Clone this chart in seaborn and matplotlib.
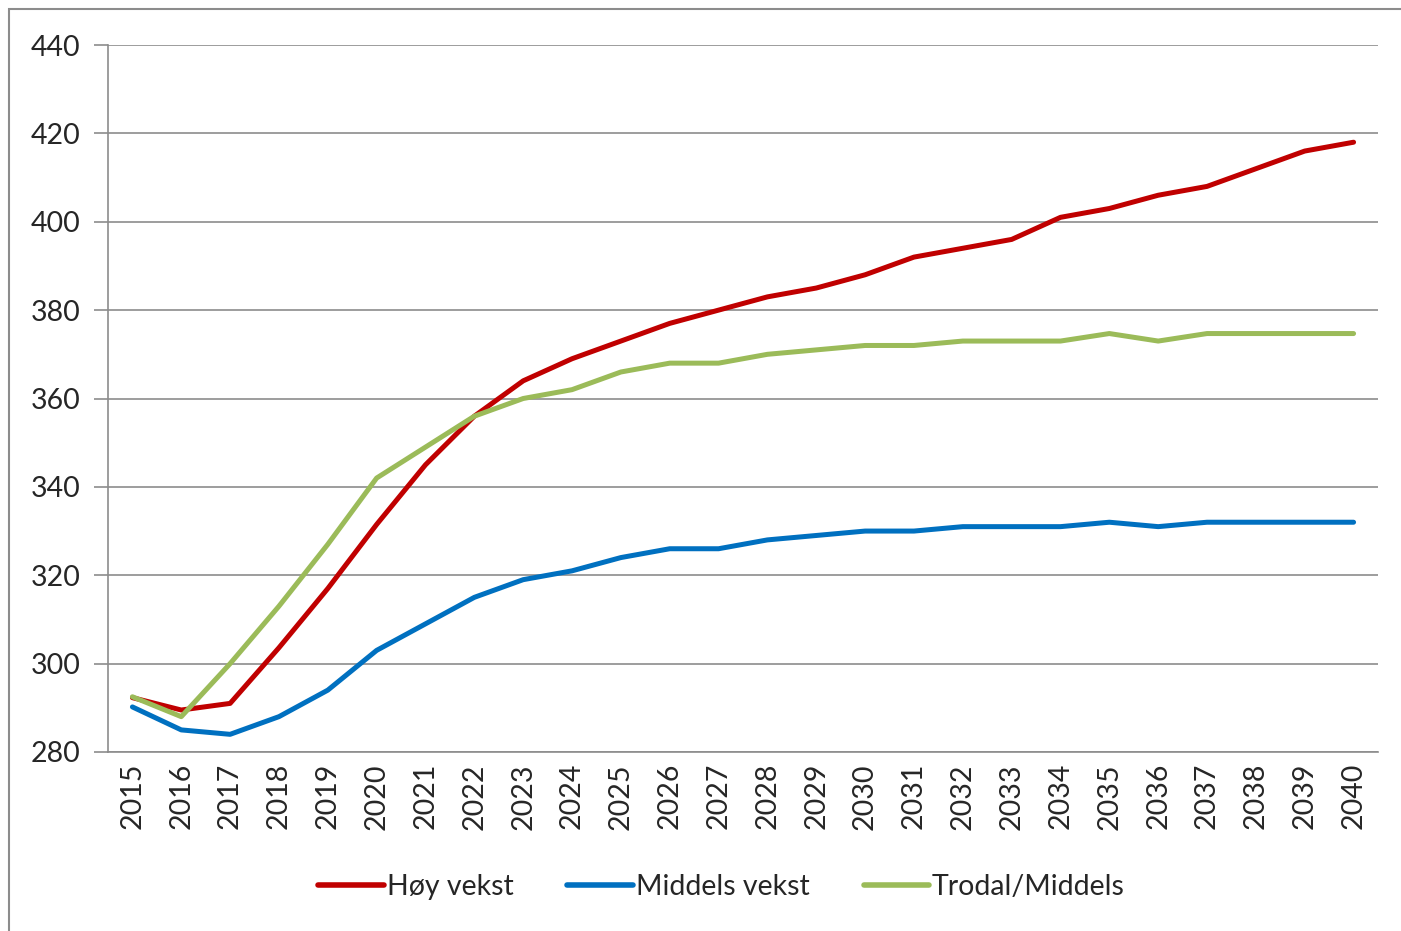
import pandas as pd
import matplotlib.pyplot as plt
import numpy as np
import seaborn as sns
from matplotlib.patches import Rectangle

years = list(range(2015, 2041))
hoy_vekst = [292.3, 289.5, 291, 303.6, 317, 331.5, 345, 356, 364, 369, 373, 377, 380,
             383, 385, 388, 392, 394, 396, 401, 403, 406, 408, 412, 416, 418]
middels_vekst = [290.2, 285, 284, 288, 294, 303, 309, 315, 319, 321, 324, 326, 326,
                 328, 329, 330, 330, 331, 331, 331, 332, 331, 332, 332, 332, 332]
trodal_middels = [292.5, 288, 300, 313, 327, 342, 349, 356, 360, 362, 366, 368, 368,
                  370, 371, 372, 372, 373, 373, 373, 374.7, 373, 374.7, 374.7, 374.7, 374.7]
series_names = ['Høy vekst', 'Middels vekst', 'Trodal/Middels']
colors = ['#C00000', '#0070C0', '#9BBB59']

df = pd.DataFrame({
    'pos': np.tile(np.arange(len(years)), 3),
    'value': hoy_vekst + middels_vekst + trodal_middels,
    'serie': np.repeat(series_names, len(years)),
})

sns.set_style("white")
plt.rcParams['font.family'] = ['Lato', 'DejaVu Sans']

fig = plt.figure(figsize=(14.01, 9.31), dpi=100)
ax = fig.add_axes([108 / 1401, 1 - 752 / 931, (1378 - 108) / 1401, (752 - 45) / 931])

sns.lineplot(data=df, x='pos', y='value', hue='serie', palette=colors,
             linewidth=3.6, ax=ax, legend=True)

ax.set_xlim(-0.5, len(years) - 0.5)
ax.set_ylim(280, 440)
ax.set_yticks(range(280, 441, 20))
ax.yaxis.grid(True, color='#8c8c8c', linewidth=1.2)
ax.set_xticks(range(len(years)))
ax.set_xticklabels([str(y) for y in years], rotation=90)
ax.set_xticks(np.arange(-0.5, len(years), 1), minor=True)
ax.tick_params(axis='x', which='major', length=0, labelsize=20.5, pad=8)
ax.tick_params(axis='x', which='minor', length=8, width=1.2, color='#8c8c8c', direction='out')
ax.tick_params(axis='y', length=10, width=1.2, color='#8c8c8c', direction='out',
               labelsize=20.5, pad=10, left=True)
ax.set_xlabel('')
ax.set_ylabel('')
for s in ['top', 'right']:
    ax.spines[s].set_visible(False)
for s in ['left', 'bottom']:
    ax.spines[s].set_color('#8c8c8c')
    ax.spines[s].set_linewidth(1.2)

leg = ax.legend(loc='center', bbox_to_anchor=(0.515, 1 - 887 / 931), bbox_transform=fig.transFigure,
                ncol=3, frameon=False, fontsize=20.5, handlelength=2.3, handletextpad=0.1,
                columnspacing=1.9)
for line in leg.get_lines():
    line.set_linewidth(4)

fig.patches.append(Rectangle((9 / 1401, -0.01), 1.1, 1 - 9 / 931 + 0.01, transform=fig.transFigure,
                             fill=False, edgecolor='#8c8c8c', linewidth=1.5))

fig.savefig('out.png', dpi=100, facecolor='white')
